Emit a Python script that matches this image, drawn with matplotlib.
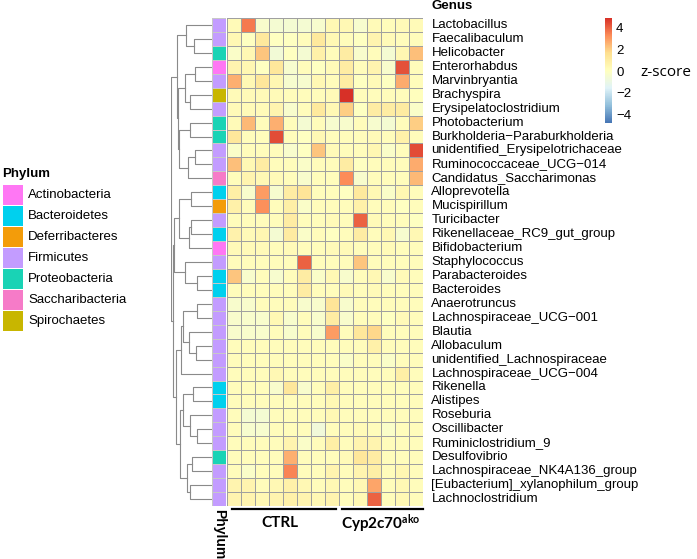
import numpy as np
import matplotlib
matplotlib.use('Agg')
import matplotlib.pyplot as plt
from matplotlib.colors import LinearSegmentedColormap, ListedColormap
from matplotlib.patches import Rectangle

plt.rcParams['mathtext.fontset'] = 'custom'
plt.rcParams['mathtext.rm'] = 'Lato'
plt.rcParams['mathtext.bf'] = 'Lato:bold'

genera = ['Lactobacillus', 'Faecalibaculum', 'Helicobacter', 'Enterorhabdus',
          'Marvinbryantia', 'Brachyspira', 'Erysipelatoclostridium', 'Photobacterium',
          'Burkholderia\u2212Paraburkholderia', 'unidentified_Erysipelotrichaceae',
          'Ruminococcaceae_UCG\u2212014', 'Candidatus_Saccharimonas', 'Alloprevotella',
          'Mucispirillum', 'Turicibacter', 'Rikenellaceae_RC9_gut_group', 'Bifidobacterium',
          'Staphylococcus', 'Parabacteroides', 'Bacteroides', 'Anaerotruncus',
          'Lachnospiraceae_UCG\u2212001', 'Blautia', 'Allobaculum',
          'unidentified_Lachnospiraceae', 'Lachnospiraceae_UCG\u2212004', 'Rikenella',
          'Alistipes', 'Roseburia', 'Oscillibacter', 'Ruminiclostridium_9', 'Desulfovibrio',
          'Lachnospiraceae_NK4A136_group', '[Eubacterium]_xylanophilum_group',
          'Lachnoclostridium']

phyla = ['Actinobacteria', 'Bacteroidetes', 'Deferribacteres', 'Firmicutes',
         'Proteobacteria', 'Saccharibacteria', 'Spirochaetes']
phylum_colors = ['#FF77F4', '#00D0EE', '#F39C0A', '#C39CFF', '#19D3B5', '#F67BC8', '#C8B600']

row_phylum = ['Firmicutes', 'Firmicutes', 'Proteobacteria', 'Actinobacteria', 'Firmicutes',
              'Spirochaetes', 'Firmicutes', 'Proteobacteria', 'Proteobacteria', 'Firmicutes',
              'Firmicutes', 'Saccharibacteria', 'Bacteroidetes', 'Deferribacteres', 'Firmicutes',
              'Bacteroidetes', 'Actinobacteria', 'Firmicutes', 'Bacteroidetes', 'Bacteroidetes',
              'Firmicutes', 'Firmicutes', 'Firmicutes', 'Firmicutes', 'Firmicutes', 'Firmicutes',
              'Bacteroidetes', 'Bacteroidetes', 'Firmicutes', 'Firmicutes', 'Firmicutes',
              'Proteobacteria', 'Firmicutes', 'Firmicutes', 'Firmicutes']

# z-scores, 8 CTRL samples then 6 Cyp2c70ako samples
zscore = np.array([
    [0.3, 3.6, -0.3, -0.5, -0.5, -0.5, -0.4, 0.4, 0.4, -0.4, 0.3, 0.2, 0.3, 0.3],
    [0.4, 0.0, 1.2, 0.0, 0.0, 0.2, 1.2, 0.4, 0.2, 0.0, 0.6, 0.3, 0.2, 0.2],
    [-0.2, 0.4, 2.2, -0.6, 0.0, -0.5, 0.8, 0.2, 1.0, -0.3, 0.2, -0.5, 0.5, 2.3],
    [0.6, 0.5, 0.0, 1.3, -0.4, 0.2, 0.0, 0.3, 1.0, 0.2, 0.6, -0.3, 4.3, 0.2],
    [2.6, 0.4, 1.3, 0.5, -0.4, -0.4, 0.4, 0.2, 1.0, 0.0, 0.3, 0.0, 2.7, 0.2],
    [0.3, 0.3, 0.3, 0.3, 0.2, 0.2, 0.2, 0.3, 4.9, 0.2, 0.2, 0.2, 0.2, 0.1],
    [0.3, 0.3, 0.3, 0.6, -0.3, 0.2, 1.2, 0.4, 2.0, 0.0, 1.0, 1.0, 1.1, -0.2],
    [0.3, 2.4, 0.2, 2.6, 0.2, -0.5, 0.2, -0.4, -0.3, 0.2, -0.4, -0.5, 0.2, 2.0],
    [1.3, 0.2, 0.2, 4.4, 0.2, 0.0, 0.4, 0.2, 0.2, 0.2, 0.3, 0.2, 0.8, 0.2],
    [-0.2, 0.2, 0.2, 0.2, -0.3, 0.0, 2.2, 0.3, 0.2, 0.2, 0.5, -0.2, 0.2, 4.4],
    [2.3, 0.4, 1.0, 0.2, 0.2, -0.2, 0.2, 0.2, 1.0, 0.0, 0.2, 0.2, 0.2, 2.7],
    [0.2, 0.6, 0.4, 0.3, 0.2, -0.3, 0.2, 0.2, 3.3, -0.3, 0.2, 0.2, 0.2, 2.4],
    [0.9, -0.3, 3.0, -0.4, 1.0, 1.4, 0.2, 0.2, 0.0, 1.2, 0.4, -0.2, 0.5, 0.2],
    [0.8, 0.2, 3.2, 0.2, 0.9, -0.2, 0.2, 0.2, 0.2, 0.8, 0.2, 0.2, 0.0, 0.2],
    [0.2, 0.2, 0.2, 0.2, 1.0, 0.2, 0.2, 0.3, 0.2, 4.0, 0.3, 0.2, 0.2, 0.0],
    [0.7, 0.3, 0.5, -0.5, 1.1, -0.2, 0.2, 0.0, 0.2, 1.0, 0.2, 0.4, -0.4, 0.4],
    [0.3, 0.3, 0.3, 0.2, 0.3, 0.2, 0.2, 0.3, 0.3, 0.2, 0.2, 0.3, 0.2, 0.2],
    [0.2, 0.2, 0.2, 0.2, 0.2, 4.0, 0.2, 0.2, 0.2, 2.2, 0.2, 0.2, 0.2, 0.2],
    [2.2, -0.3, 0.2, -0.4, 0.2, 1.0, -0.2, 0.4, -0.3, 0.2, 0.4, -0.3, 0.3, 0.2],
    [0.2, 0.2, 0.2, 0.2, 0.2, 1.0, 0.2, 0.2, 0.3, 0.2, 0.3, 0.2, 0.2, 0.2],
    [-0.3, -0.3, 0.2, 0.2, 0.2, -0.3, -0.3, 1.4, -0.3, 0.2, 0.2, 0.2, 0.2, 0.2],
    [-0.3, -0.3, -0.3, 0.4, -0.3, 0.2, -0.3, 1.0, -0.3, 0.2, 0.2, 0.0, 0.3, 0.2],
    [-0.3, -0.3, -0.3, 0.2, -0.3, 0.2, -0.3, 3.0, 0.2, 1.3, 1.8, 0.2, 0.2, 0.2],
    [0.2, 0.2, 0.2, 0.2, 0.2, 0.2, 0.2, 0.2, 0.2, 0.2, 0.8, 0.2, 0.2, 0.2],
    [0.2, 0.2, 0.2, 0.2, 0.2, 0.2, 0.2, 0.2, -0.2, 0.2, 0.2, -0.2, 0.2, 0.2],
    [0.2, 0.2, 0.2, 0.4, 0.2, 0.2, 0.2, 0.2, 0.2, 0.2, 0.2, 0.2, 0.9, 0.2],
    [0.2, 0.2, 0.2, -0.3, 1.3, -0.3, 0.2, 0.9, 0.2, 0.2, 0.2, 0.2, 0.2, 0.2],
    [0.2, 0.2, 0.2, 0.2, 0.2, 0.2, 0.2, 0.4, 0.2, 0.2, 0.2, 0.2, 0.2, 0.2],
    [0.2, -0.5, -0.5, 0.2, 0.2, 0.2, 0.2, 0.4, 0.2, 0.2, 0.2, 0.2, 0.2, 0.2],
    [0.2, -0.4, -0.4, 0.2, 0.2, 0.2, -0.7, 0.2, 0.2, 0.3, 0.2, -0.2, 0.2, 0.2],
    [0.2, 0.2, 0.2, 0.2, 0.6, -0.2, 0.2, 0.9, 0.2, 0.6, 0.6, 0.2, 0.2, 0.2],
    [0.2, 0.2, 0.2, 0.2, 2.6, 0.2, 0.2, 0.2, 0.3, 1.3, 1.0, 0.2, 0.2, 0.2],
    [0.2, -0.2, 0.2, 0.2, 3.4, 0.2, 0.2, 0.6, 0.2, 0.6, 0.9, 0.2, 0.5, 0.2],
    [0.6, 0.6, 0.2, 0.4, 0.8, 0.4, 0.2, 0.4, 0.2, 0.4, 2.8, 0.2, 0.4, 0.2],
    [0.6, 0.6, 0.4, 0.6, 0.8, 0.6, 0.4, 0.6, 0.2, 0.4, 4.0, 0.2, 0.4, 0.2],
])
n_ctrl = 8

# row dendrogram: (merge height, left, right), leaves are row indices
tree_a = (98, (73, 0, (50, 1, 2)),
          (95, (75, (48, 3, 4), (61, 5, 6)), (91, (61, 7, 8), (68, (48, 9, 10), 11))))
tree_b = (105, (93, (58, 12, 13), (63, (58, 14, 15), 16)), (75, 17, (43, 18, 19)))
tree_c = (100, (85, (80, (43, 20, 21), (65, 22, (45, 23, 24))), 25),
          (88, (80, (53, 26, 27), (60, 28, (43, 29, 30))), (70, (55, 31, 32), (60, 33, 34))))
tree = (113, tree_a, (108, tree_b, tree_c))

W, H = 697, 559


def box(x0, y0, x1, y1):
    return [x0 / W, 1 - y1 / H, (x1 - x0) / W, (y1 - y0) / H]


cmap = LinearSegmentedColormap.from_list(
    'rdylbu', ['#4575B4', '#91BFDB', '#E0F3F8', '#FFFFBF', '#FEE090', '#FC8D59', '#D73027'])

fig = plt.figure(figsize=(W / 100, H / 100), dpi=100)
nrow, ncol = zscore.shape

ax = fig.add_axes(box(227, 18, 423, 506))
mesh = ax.pcolormesh(zscore, cmap=cmap, vmin=-4.8, vmax=4.9,
                     edgecolors='#a0a0a0', linewidth=0.6)
ax.set_xlim(0, ncol)
ax.set_ylim(nrow, 0)
ax.axis('off')
for i, g in enumerate(genera):
    ax.text(ncol + 0.6, i + 0.5, g, va='center', ha='left', fontsize=9.5,
            family='Liberation Sans')
ax.text(ncol + 0.6, -0.85, 'Genus', va='center', ha='left', fontsize=9.5,
        fontweight='bold', family='Liberation Sans')

# group bars and labels under the heatmap
ax.plot([0.35, n_ctrl - 0.2], [nrow + 0.2] * 2, color='black', lw=1.6, clip_on=False)
ax.plot([n_ctrl + 0.2, ncol], [nrow + 0.2] * 2, color='black', lw=1.6, clip_on=False)
ax.text(3.8, nrow + 1.25, 'CTRL', ha='center', va='center', fontsize=11,
        fontweight='bold', family='Lato')
ax.text(11.0, nrow + 1.25, r'$\mathbf{Cyp2c70^{ako}}$', ha='center', va='center',
        fontsize=11)

# phylum annotation column
axa = fig.add_axes(box(212, 18, 226, 506))
codes = np.array([[phyla.index(p)] for p in row_phylum])
axa.pcolormesh(codes, cmap=ListedColormap(phylum_colors), vmin=-0.5,
               vmax=len(phyla) - 0.5, edgecolors='#c8c8c8', linewidth=0.4)
axa.set_ylim(nrow, 0)
axa.axis('off')
axa.text(0.5, nrow + 0.2, 'Phylum', rotation=270, ha='center', va='top',
         fontsize=10, fontweight='bold', family='Liberation Sans')

# dendrogram
axd = fig.add_axes(box(171, 18, 212, 506))


def draw(node):
    if isinstance(node, int):
        return node + 0.5, 0
    h, left, right = node
    yl, hl = draw(left)
    yr, hr = draw(right)
    axd.plot([hl, h, h, hr], [yl, yl, yr, yr], color='#8a8a8a', lw=0.8)
    return (yl + yr) / 2, h


draw(tree)
axd.set_xlim(tree[0] + 1, 0)
axd.set_ylim(nrow, 0)
axd.axis('off')

# colour bar
cax = fig.add_axes(box(605, 18, 612, 123))
cb = fig.colorbar(mesh, cax=cax, ticks=[-4, -2, 0, 2, 4])
cb.outline.set_visible(False)
cb.ax.tick_params(length=0, pad=3, labelsize=9.5)
for t in cb.ax.get_yticklabels():
    t.set_family('Liberation Sans')
fig.text(640 / W, 1 - 73 / H, 'z-score', va='center', ha='left', fontsize=11,
         family='Open Sans')

# phylum legend
fig.text(2 / W, 1 - 174 / H, 'Phylum', va='center', ha='left', fontsize=9.5,
         fontweight='bold', family='Liberation Sans')
for k, (p, c) in enumerate(zip(phyla, phylum_colors)):
    yc = 195 + 21 * k
    fig.add_artist(Rectangle((3 / W, 1 - (yc + 10) / H), 20 / W, 20 / H,
                             facecolor=c, edgecolor='none', transform=fig.transFigure))
    fig.text(28 / W, 1 - yc / H, p, va='center', ha='left', fontsize=9.5,
             family='Liberation Sans')

fig.savefig('out.png', dpi=100)
